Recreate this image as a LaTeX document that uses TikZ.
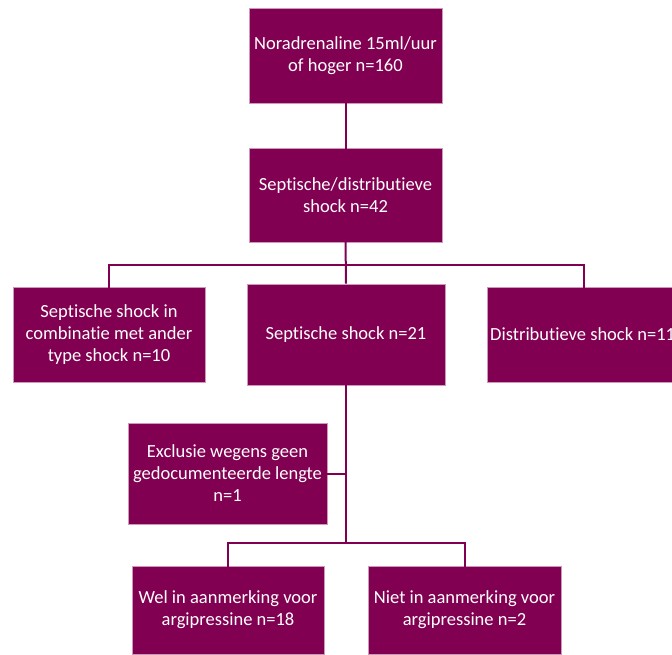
\documentclass[tikz,border=0pt]{standalone}
\usepackage{fontspec}
\setmainfont[Ligatures=NoCommon]{Carlito}
\definecolor{plum}{RGB}{130,0,82}
\begin{document}
\begin{tikzpicture}[x=1pt,y=-1pt,
  box/.style={fill=plum,draw=plum!40!white,line width=0.6pt,text=white,align=center,inner sep=0pt,
    font=\fontsize{18.5}{22}\selectfont},
  conn/.style={draw=plum,line width=2pt}]
\useasboundingbox (0,0) rectangle (672,655);
\node[box,minimum width=193,minimum height=95] (b1) at (345.5,55.5) {Noradrenaline 15ml/uur\\of hoger n=160};
\node[box,minimum width=193,minimum height=94] (b2) at (345.5,195) {Septische/distributieve\\shock n=42};
\node[box,minimum width=192,minimum height=95] (left) at (109,334.5) {Septische shock in\\combinatie met ander\\type shock n=10};
\node[box,minimum width=198,minimum height=101] (mid) at (346,334.5) {Septische shock n=21};
\node[box,minimum width=193,minimum height=95] (right) at (583.5,334.5) {};
\node[text=white,anchor=west,inner sep=0pt,font=\fontsize{18.5}{22}\selectfont] (rtext) at (490,334.5) {Distributieve shock n=11};
\node[box,minimum width=199,minimum height=101] (excl) at (227.5,473.5) {Exclusie wegens geen\\gedocumenteerde lengte\\n=1};
\node[box,minimum width=192,minimum height=88] (bl) at (228,610) {Wel in aanmerking voor\\argipressine n=18};
\node[box,minimum width=193,minimum height=88] (br) at (464.5,610) {Niet in aanmerking voor\\argipressine n=2};
\coordinate (bus) at (346,265);
\coordinate (bus2) at (346,543);
\draw[conn] ([yshift=3]b1.south) -- ([yshift=-3]b2.north);
\draw[conn] ([yshift=3]b2.south) -- (mid.north);
\draw[conn] ([yshift=-3]left.north) |- (bus) -| ([yshift=-3]right.north);
\draw[conn] (mid.south) -- (bus2);
\draw[conn] ([yshift=-3]bl.north) |- (bus2) -| ([yshift=-3]br.north);
\draw[conn] (excl.east) -- (excl.east -| bus2);
\end{tikzpicture}
\end{document}
